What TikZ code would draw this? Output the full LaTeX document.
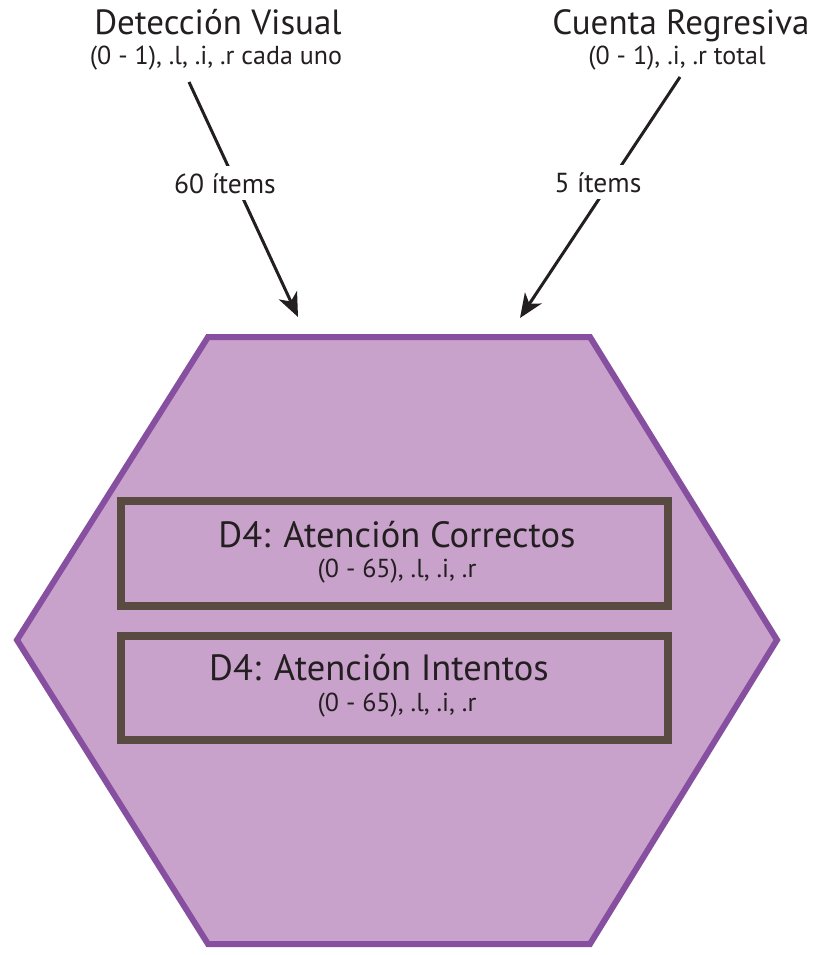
\documentclass[tikz,border=0pt]{standalone}
\usepackage{fontspec}
\setmainfont{PT Sans}
\usetikzlibrary{arrows.meta}
\definecolor{hexline}{HTML}{864FA0}
\definecolor{hexfill}{HTML}{C8A2CB}
\definecolor{boxline}{HTML}{594A42}
\definecolor{ink}{HTML}{231F20}
\begin{document}
\begin{tikzpicture}[x=1pt,y=-1pt,
  title/.style={font=\fontsize{35}{38}\selectfont, text=ink, inner sep=0pt, anchor=base},
  subt/.style={font=\fontsize{26}{28}\selectfont, text=ink, inner sep=0pt, anchor=base},
  lbl/.style={font=\fontsize{27.5}{30}\selectfont, text=ink, fill=white, inner xsep=2pt, inner ysep=7pt, anchor=base},
  boxtitle/.style={font=\fontsize{36.5}{40}\selectfont, text=ink, inner sep=0pt, anchor=base},
  boxsub/.style={font=\fontsize{26}{28}\selectfont, text=ink, inner sep=0pt, anchor=base},
  stepbox/.style={draw=boxline, line width=8.5pt, minimum width=547pt, minimum height=105pt, inner sep=0pt},
  arr/.style={draw=ink, line width=3pt, -{Stealth[length=24pt,width=20pt,inset=7pt]}},
  hex/.style={draw=hexline, fill=hexfill, line width=6pt, line join=miter}
]
\useasboundingbox (0,0) rectangle (820,955);

% hexagon
\coordinate (h1) at (208,337);
\coordinate (h2) at (590,337);
\coordinate (h3) at (777,640);
\coordinate (h4) at (590,944);
\coordinate (h5) at (208,944);
\coordinate (h6) at (17,640);
\draw[hex] (h1) -- (h2) -- (h3) -- (h4) -- (h5) -- (h6) -- cycle;

% boxes
\node[stepbox] (box1) at (394.5,553.5) {};
\node[stepbox, minimum height=104pt] (box2) at (394.5,688) {};
\node[boxtitle] (b1t) at (397,547) {D4: Atención Correctos};
\node[boxsub]   (b1s) at (397,577) {(0 - 65), .l, .i, .r};
\node[boxtitle] (b2t) at (379,680) {D4: Atención Intentos};
\node[boxsub]   (b2s) at (397,711) {(0 - 65), .l, .i, .r};

% sources
\node[title] (src1) at (218,35) {Detección Visual};
\node[subt]  (src1s) at (216,65) {(0 - 1), .l, .i, .r cada uno};
\node[title] (src2) at (681,35) {Cuenta Regresiva};
\node[subt]  (src2s) at (677,65) {(0 - 1), .i, .r total};

% arrows
\coordinate (a1) at (189,82);
\coordinate (t1) at (298,317);
\coordinate (a2) at (680,77);
\coordinate (t2) at (520,318);
\draw[arr] (a1) -- (t1);
\draw[arr] (a2) -- (t2);
\node[lbl] (l1) at (225,193) {60 ítems};
\node[lbl] (l2) at (598,192) {5 ítems};
\end{tikzpicture}
\end{document}
